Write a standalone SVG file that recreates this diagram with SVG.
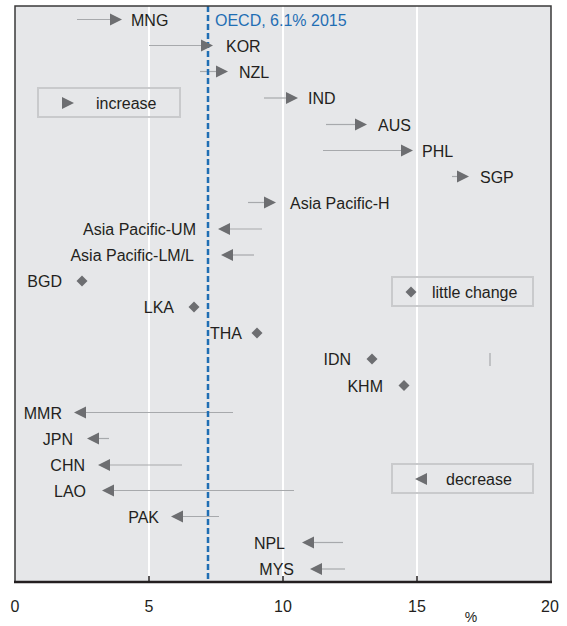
<svg xmlns="http://www.w3.org/2000/svg" width="567" height="626" viewBox="0 0 567 626">
<defs>
<style>
text{font-family:"Liberation Sans",Arial,sans-serif;font-size:16px;fill:#231f20}
.e{text-anchor:end}
.ln{stroke:#a7a9ac;stroke-width:1.2;fill:none}
.hd{fill:#6d6e71}
.grid{stroke:#ffffff;stroke-width:2}
.lg{fill:none;stroke:#c9cacc;stroke-width:2}
.ax{font-size:16px;text-anchor:middle}
</style>
<path id="ar" d="M-12,-6 L0,0 L-12,6 Z"/>
<path id="al" d="M12,-6 L0,0 L12,6 Z"/>
<path id="dm" d="M0,-5.5 L5.5,0 L0,5.5 L-5.5,0 Z"/>
</defs>
<rect x="0" y="0" width="567" height="626" fill="#ffffff"/>
<rect x="15" y="6" width="536" height="576" fill="#e6e7e9"/>
<g id="grid">
<line class="grid" x1="149" y1="6" x2="149" y2="582"/>
<line class="grid" x1="283" y1="6" x2="283" y2="582"/>
<line class="grid" x1="417" y1="6" x2="417" y2="582"/>
</g>
<g id="connectors">
<line class="ln" x1="77" y1="19.5" x2="111" y2="19.5"/>
<line class="ln" x1="149" y1="45.5" x2="202" y2="45.5"/>
<line class="ln" x1="200" y1="71.5" x2="217" y2="71.5"/>
<line class="ln" x1="264" y1="98" x2="287" y2="98"/>
<line class="ln" x1="326" y1="124.5" x2="356" y2="124.5"/>
<line class="ln" x1="323" y1="150.5" x2="402" y2="150.5"/>
<line class="ln" x1="452" y1="176.5" x2="458" y2="176.5"/>
<line class="ln" x1="248" y1="202.5" x2="265" y2="202.5"/>
<line class="ln" x1="229" y1="229" x2="262" y2="229"/>
<line class="ln" x1="232" y1="255" x2="254" y2="255"/>
<line class="ln" x1="490" y1="353" x2="490" y2="366"/>
<line class="ln" x1="85" y1="412.5" x2="233" y2="412.5"/>
<line class="ln" x1="98" y1="438.5" x2="109" y2="438.5"/>
<line class="ln" x1="109" y1="465" x2="182" y2="465"/>
<line class="ln" x1="113" y1="490.5" x2="294" y2="490.5"/>
<line class="ln" x1="182" y1="516.5" x2="219" y2="516.5"/>
<line class="ln" x1="313" y1="542.5" x2="343" y2="542.5"/>
<line class="ln" x1="321" y1="569" x2="345" y2="569"/>
</g>
<g id="oecd">
<line x1="208" y1="6" x2="208" y2="582" stroke="#1f6eb4" stroke-width="2.5" stroke-dasharray="6 3"/>
<text x="215" y="26" style="fill:#1f6eb4">OECD, 6.1% 2015</text>
</g>
<g id="MNG"><use href="#ar" class="hd" x="122" y="19.5"/><text x="131" y="25.5">MNG</text></g>
<g id="KOR"><use href="#ar" class="hd" x="213" y="45.5"/><text x="226" y="51.5">KOR</text></g>
<g id="NZL"><use href="#ar" class="hd" x="228" y="71.5"/><text x="239" y="77.5">NZL</text></g>
<g id="IND"><use href="#ar" class="hd" x="298" y="98"/><text x="308" y="104">IND</text></g>
<g id="AUS"><use href="#ar" class="hd" x="367" y="124.5"/><text x="378" y="130.5">AUS</text></g>
<g id="PHL"><use href="#ar" class="hd" x="413" y="150.5"/><text x="422" y="156.5">PHL</text></g>
<g id="SGP"><use href="#ar" class="hd" x="469" y="176.5"/><text x="480" y="182.5">SGP</text></g>
<g id="APH"><use href="#ar" class="hd" x="276" y="202.5"/><text x="290" y="208.5">Asia Pacific-H</text></g>
<g id="APUM"><use href="#al" class="hd" x="218" y="229"/><text class="e" x="196" y="235">Asia Pacific-UM</text></g>
<g id="APLML"><use href="#al" class="hd" x="221" y="255"/><text class="e" x="194" y="261">Asia Pacific-LM/L</text></g>
<g id="BGD"><use href="#dm" class="hd" x="82" y="281"/><text class="e" x="62" y="287">BGD</text></g>
<g id="LKA"><use href="#dm" class="hd" x="194" y="307"/><text class="e" x="174" y="313">LKA</text></g>
<g id="THA"><use href="#dm" class="hd" x="257" y="333"/><text x="210" y="339">THA</text></g>
<g id="IDN"><use href="#dm" class="hd" x="372" y="359"/><text class="e" x="351" y="365">IDN</text></g>
<g id="KHM"><use href="#dm" class="hd" x="404" y="385.5"/><text class="e" x="383" y="391.5">KHM</text></g>
<g id="MMR"><use href="#al" class="hd" x="74" y="412.5"/><text class="e" x="62" y="418.5">MMR</text></g>
<g id="JPN"><use href="#al" class="hd" x="87" y="438.5"/><text class="e" x="73" y="444.5">JPN</text></g>
<g id="CHN"><use href="#al" class="hd" x="98" y="465"/><text class="e" x="85" y="471">CHN</text></g>
<g id="LAO"><use href="#al" class="hd" x="102" y="490.5"/><text class="e" x="86" y="496.5">LAO</text></g>
<g id="PAK"><use href="#al" class="hd" x="171" y="516.5"/><text class="e" x="159" y="522.5">PAK</text></g>
<g id="NPL"><use href="#al" class="hd" x="302" y="542.5"/><text class="e" x="285" y="548.5">NPL</text></g>
<g id="MYS"><use href="#al" class="hd" x="310" y="569"/><text class="e" x="294" y="575">MYS</text></g>
<g id="legend-increase"><rect class="lg" x="38" y="88" width="142" height="29"/><use href="#ar" class="hd" x="74" y="103"/><text x="96" y="109">increase</text></g>
<g id="legend-little"><rect class="lg" x="392" y="277" width="141" height="29"/><use href="#dm" class="hd" x="411" y="292"/><text x="432" y="298">little change</text></g>
<g id="legend-decrease"><rect class="lg" x="392" y="464" width="141" height="29"/><use href="#al" class="hd" x="415" y="479"/><text x="446" y="485">decrease</text></g>
<g id="frame">
<path d="M15,582 V6 H551 V582" fill="none" stroke="#3a3a3a" stroke-width="1.5"/>
<line x1="14" y1="582" x2="552" y2="582" stroke="#231f20" stroke-width="2.5"/>
<g stroke="#231f20" stroke-width="1.5">
<line x1="149" y1="576" x2="149" y2="582"/>
<line x1="283" y1="576" x2="283" y2="582"/>
<line x1="417" y1="576" x2="417" y2="582"/>
</g>
</g>
<g id="axis">
<text class="ax" x="15" y="612">0</text>
<text class="ax" x="149" y="612">5</text>
<text class="ax" x="283" y="612">10</text>
<text class="ax" x="417" y="612">15</text>
<text class="ax" x="550" y="612">20</text>
<text class="ax" x="471" y="622" style="font-size:14px">%</text>
</g>
</svg>
